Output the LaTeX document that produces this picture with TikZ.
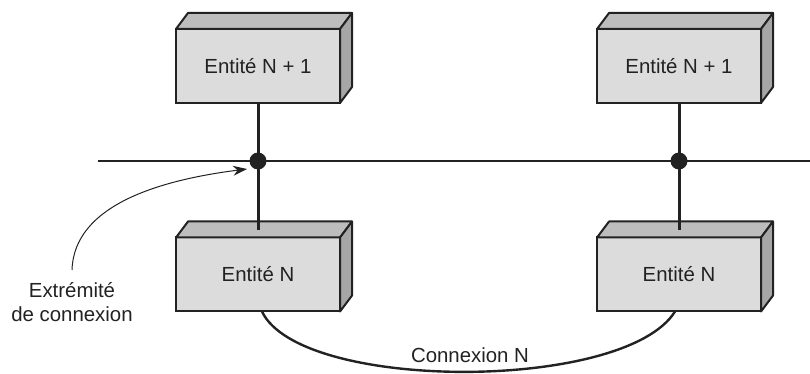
\documentclass[tikz,border=0pt]{standalone}
\usepackage{fontspec}
\setmainfont{Liberation Sans}
\usetikzlibrary{arrows.meta,positioning,calc}
\definecolor{facefront}{HTML}{DCDCDD}
\definecolor{facetop}{HTML}{BDBDBE}
\definecolor{faceside}{HTML}{A6A6A7}
\definecolor{inkgray}{HTML}{222222}
\tikzset{
  entitybox/.style={draw=inkgray, fill=facefront, line width=1pt, minimum width=82pt, minimum height=37pt, outer sep=0pt, inner sep=0pt, font=\fontsize{10.2}{12.4}\selectfont, text=inkgray},
  boxface/.style={draw=inkgray, line width=1pt, line join=round},
  busline/.style={draw=inkgray, line width=0.8pt},
  linkline/.style={draw=inkgray, line width=1.5pt},
  cxdot/.style={circle, fill=inkgray, minimum size=8.5pt, inner sep=0pt},
  notelabel/.style={align=center, inner sep=1pt, font=\fontsize{10.2}{12}\selectfont, text=inkgray},
  notearrow/.style={-{Stealth[length=7pt,width=5pt]}, draw=inkgray, line width=0.5pt}
}

\begin{document}
\begin{tikzpicture}[x=0.5pt,y=-0.5pt]
\useasboundingbox (0,0) rectangle (810,374);
\node[entitybox] (ea1) at (258,66) {Entité N + 1};
\node[entitybox] (eb1) at (679,66) {Entité N + 1};
\node[entitybox] (ea) at (258,274.5) {Entité N};
\node[entitybox] (eb) at (679,274.5) {Entité N};
% top and side faces of the boxes
\foreach \b in {ea1,eb1,ea,eb} {
  \filldraw[boxface, fill=facetop] (\b.north west) -- ++(12,-16) -- ++(164,0) -- (\b.north east) -- cycle;
  \filldraw[boxface, fill=faceside] (\b.north east) -- ++(12,-16) -- ++(0,74) -- (\b.south east) -- cycle;
}
\coordinate (busw) at (98,161);
\coordinate (buse) at (810,161);
\draw[busline] (busw) -- (buse);
\draw[linkline] (ea1.south) -- ([yshift=3.5pt]ea.north);
\draw[linkline] (eb1.south) -- ([yshift=3.5pt]eb.north);
\node[cxdot] (pa) at (ea1 |- busw) {};
\node[cxdot] (pb) at (eb1 |- busw) {};
\node[notelabel] (ext) at (72,302) {Extrémité\\de connexion};
\draw[notearrow] ([yshift=5pt]ext.north) .. controls (74,205) and (160,180) .. ([xshift=-5.5pt,yshift=-4pt]pa.center);
\node[notelabel] (cxlabel) at (470,355) {Connexion N};
\draw[linkline, line width=1.2pt] ([xshift=2pt]ea.south) .. controls (300,392) and (625,392) .. ([xshift=-2pt]eb.south);
\end{tikzpicture}
\end{document}
